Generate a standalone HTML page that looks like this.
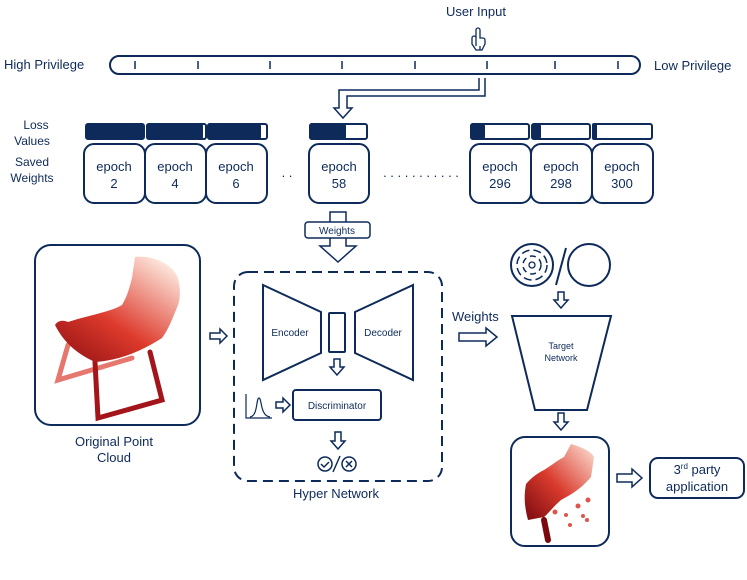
<!DOCTYPE html>
<html><head><meta charset="utf-8"><style>
body{margin:0;background:#fff}
text{font-family:"Liberation Sans",sans-serif;fill:#0d2a5a}
</style></head><body>
<svg width="747" height="575" viewBox="0 0 747 575" xmlns="http://www.w3.org/2000/svg">
<defs>
<linearGradient id="g1" x1="0" y1="1" x2="0.8" y2="0">
<stop offset="0" stop-color="#8e0f12"/><stop offset="0.45" stop-color="#dd3a2c"/><stop offset="1" stop-color="#fde6dc"/></linearGradient>
<linearGradient id="g2" x1="0" y1="1" x2="1" y2="0">
<stop offset="0" stop-color="#7a0a10"/><stop offset="0.45" stop-color="#d93a2c"/><stop offset="1" stop-color="#fde4d8"/></linearGradient>
</defs>
<g stroke="#0d2a5a" fill="none" stroke-width="2">
<rect x="110" y="56" width="530" height="18" rx="9"/>
<path d="M135 61v8M198 61v8M270 61v8M342 61v8M415 61v8M487 61v8M555 61v8M618 61v8" stroke-width="1.5"/>
<path d="M485 78 V96 H347 V108 H352 L343 118 L334 108 H339 V90 H479 V78" fill="#fff" stroke-width="1.5"/>
<!-- hand -->
<path d="M476 46 v-16 a2 2 0 0 1 4 0 v8 h3 a2 2 0 0 1 2 2 v4 l-3 6 h-6 l-4 -6 v-6 a2 2 0 0 1 4 0" stroke-width="1.3" fill="#fff"/>
<path d="M480 46 v4" stroke-width="1.3"/>
<rect x="86" y="124" width="58" height="15" rx="2" fill="#0d2a5a"/>
<rect x="147" y="124" width="59" height="15" rx="2"/><rect x="147" y="124" width="55" height="15" rx="2" fill="#0d2a5a"/>
<rect x="208" y="124" width="59" height="15" rx="2"/><rect x="208" y="124" width="52" height="15" rx="2" fill="#0d2a5a"/>
<rect x="310" y="124" width="57" height="15" rx="2"/><rect x="310" y="124" width="35" height="15" rx="2" fill="#0d2a5a"/>
<rect x="471" y="124" width="58" height="15" rx="2"/><rect x="471" y="124" width="13" height="15" rx="2" fill="#0d2a5a"/>
<rect x="532" y="124" width="58" height="15" rx="2"/><rect x="532" y="124" width="8" height="15" rx="2" fill="#0d2a5a"/>
<rect x="593" y="124" width="59" height="15" rx="2"/><rect x="593" y="124" width="3" height="15" rx="1" fill="#0d2a5a"/>
<rect x="84" y="144" width="61" height="59" rx="10"/>
<rect x="145" y="144" width="61" height="59" rx="10"/>
<rect x="206" y="144" width="61" height="59" rx="10"/>
<rect x="309" y="144" width="60" height="59" rx="10"/>
<rect x="470" y="144" width="61" height="59" rx="10"/>
<rect x="531" y="144" width="61" height="59" rx="10"/>
<rect x="592" y="144" width="61" height="59" rx="10"/>
<path d="M330 212 H346 V246 H356 L338 262 L320 246 H330 Z" fill="#fff" stroke-width="1.5"/>
<rect x="305" y="222" width="65" height="16" rx="3" fill="#fff" stroke-width="1.5"/>
<rect x="35" y="245" width="165" height="180" rx="16"/>
<path d="M210 333h10v-4l7 7-7 7v-4h-10z" stroke-width="1.5"/>
<rect x="234" y="272" width="208" height="209" rx="14" stroke-dasharray="10 6"/>
<path d="M263 285 L321 312 V353 L263 380 Z"/>
<rect x="329" y="313" width="16" height="39" rx="1"/>
<path d="M413 285 L355 312 V353 L413 380 Z"/>
<path d="M334 359h6v8h4l-7 8-7-8h4z" stroke-width="1.5"/>
<rect x="293" y="390" width="88" height="30" rx="3"/>
<path d="M246 394 V418 H272 M250 417 C258 416 256 398 259 398 C262 398 260 416 270 417" stroke-width="1.2"/>
<path d="M276 402h7v-4l7 7-7 7v-4h-7z" stroke-width="1.5"/>
<path d="M335 432h6v9h4l-7 8-7-8h4z" stroke-width="1.5"/>
<circle cx="325" cy="464" r="7" stroke-width="1.5"/><path d="M321 464l3 3 5-5" stroke-width="1.5"/>
<path d="M333 472 L340 456" stroke-width="1.5"/>
<circle cx="349" cy="464" r="7" stroke-width="1.5"/><path d="M346 461l6 6M352 461l-6 6" stroke-width="1.5"/>
<circle cx="532" cy="265" r="21"/>
<circle cx="532" cy="265" r="15" stroke-dasharray="8 4" stroke-width="1.5"/>
<circle cx="532" cy="265" r="9" stroke-dasharray="6 4" stroke-width="1.5"/>
<circle cx="532" cy="265" r="3" stroke-width="1.3"/>
<path d="M556 285 L566 248"/>
<circle cx="589" cy="265" r="21"/>
<path d="M558 292h6v8h4l-7 8-7-8h4z" stroke-width="1.5"/>
<path d="M459 333h27v-5l11 9-11 9v-5h-27z" stroke-width="1.5"/>
<path d="M512 316 H611 L587 410 H535 Z"/>
<path d="M558 413h6v9h4l-7 8-7-8h4z" stroke-width="1.5"/>
<rect x="511" y="437" width="98" height="109" rx="14"/>
<path d="M617 474h15v-5l10 9-10 9v-5h-15z" stroke-width="1.5"/>
<rect x="650" y="458" width="94" height="40" rx="8"/>
</g>
<!-- chair original -->
<g stroke-linecap="round" fill="none">
<path d="M68 345 L58 380 L132 358" stroke="#e0554a" stroke-width="5" opacity="0.8"/>
<path d="M95 362 L98 418 L162 400 L150 352" stroke="#a3151a" stroke-width="5"/>
</g>
<path d="M135 257 C150 255 172 262 178 278 C181 290 180 300 178 305 C172 320 168 330 162 338 C140 352 120 360 95 362 C80 355 65 345 55 325 C58 320 64 320 68 322 C90 315 110 312 122 305 C128 295 130 285 132 278 Z" fill="url(#g1)"/>
<!-- chair output -->
<path d="M544 520 L548 540" stroke="#7a0a10" stroke-width="6" fill="none" stroke-linecap="round"/>
<path d="M571 444 C582 447 592 452 594 457 L591 477 C580 490 570 495 561 500 C552 508 548 514 544 517 L528 520 C524 505 524 495 526 484 C532 477 538 473 544 470 C552 465 558 460 564 457 Z" fill="url(#g2)"/>
<g fill="#e0554a"><circle cx="555" cy="512" r="2.5"/><circle cx="566" cy="515" r="2"/><circle cx="578" cy="506" r="2.5"/><circle cx="583" cy="516" r="2"/><circle cx="588" cy="500" r="2.5"/><circle cx="570" cy="525" r="2"/><circle cx="587" cy="520" r="2"/></g>
<text x="476" y="16" font-size="13" text-anchor="middle">User Input</text>
<text x="4" y="69" font-size="13">High Privilege</text>
<text x="654" y="70" font-size="13">Low Privilege</text>
<text x="36" y="129" font-size="12" text-anchor="middle">Loss</text>
<text x="32" y="145" font-size="12" text-anchor="middle">Values</text>
<text x="32" y="166" font-size="12" text-anchor="middle">Saved</text>
<text x="32" y="182" font-size="12" text-anchor="middle">Weights</text>
<g font-size="13" text-anchor="middle">
<text x="114" y="171">epoch</text><text x="114" y="188">2</text>
<text x="175" y="171">epoch</text><text x="175" y="188">4</text>
<text x="236" y="171">epoch</text><text x="236" y="188">6</text>
<text x="339" y="171">epoch</text><text x="339" y="188">58</text>
<text x="500" y="171">epoch</text><text x="500" y="188">296</text>
<text x="561" y="171">epoch</text><text x="561" y="188">298</text>
<text x="622" y="171">epoch</text><text x="622" y="188">300</text>
</g>
<text x="287" y="177" font-size="13" text-anchor="middle">. .</text>
<text x="421" y="177" font-size="13" text-anchor="middle">. . . . . . . . . . .</text>
<text x="337" y="234" font-size="10" text-anchor="middle">Weights</text>
<text x="114" y="446" font-size="13" text-anchor="middle">Original Point</text>
<text x="114" y="462" font-size="13" text-anchor="middle">Cloud</text>
<text x="290" y="336" font-size="10" text-anchor="middle">Encoder</text>
<text x="383" y="336" font-size="10" text-anchor="middle">Decoder</text>
<text x="337" y="409" font-size="10" text-anchor="middle">Discriminator</text>
<text x="336" y="498" font-size="13" text-anchor="middle">Hyper Network</text>
<text x="452" y="321" font-size="13">Weights</text>
<text x="561" y="349" font-size="9" text-anchor="middle">Target</text>
<text x="561" y="361" font-size="9" text-anchor="middle">Network</text>
<text x="697" y="474" font-size="13" text-anchor="middle">3<tspan font-size="8" dy="-5">rd</tspan><tspan dy="5"> party</tspan></text>
<text x="697" y="491" font-size="13" text-anchor="middle">application</text>
</svg>
</body></html>
